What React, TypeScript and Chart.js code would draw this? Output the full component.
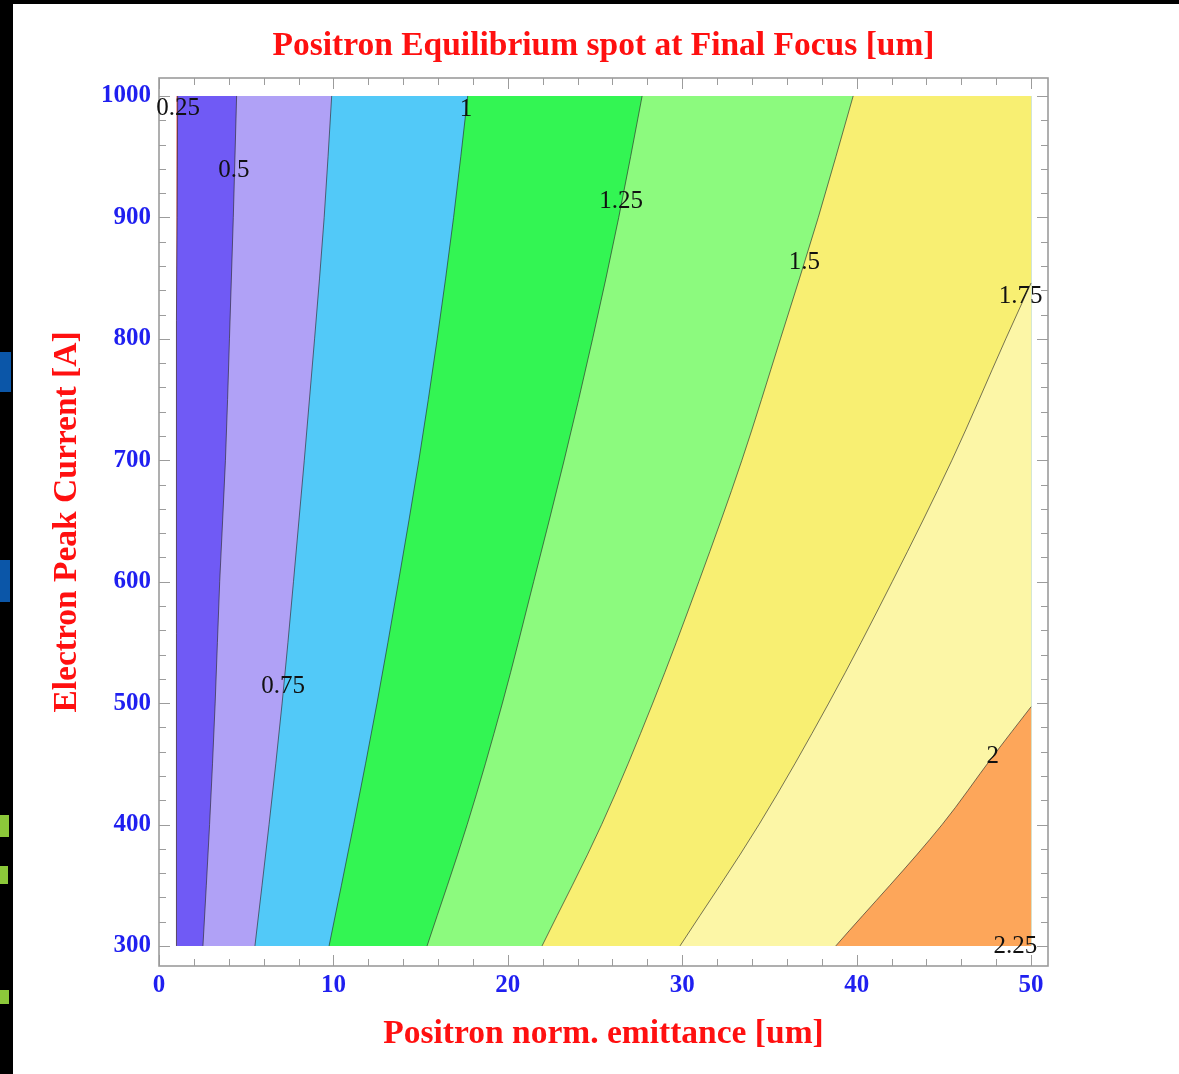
import React, { useEffect, useRef } from 'react';
import { Chart, registerables } from 'chart.js';

Chart.register(...registerables);

// ---- Data ----
// Electron peak current levels [A] at which contour positions were read
const CURRENT = [300, 400, 500, 600, 700, 800, 900, 1000];
// Positron norm. emittance [um] where each contour crosses the current levels
const EDGE_LEFT_X = [1, 1];
const EDGE_Y = [300, 1000];
const C025_Y = [300, 815, 900, 1000];
const C025_X = [1, 1, 1.04, 1.07];
const C050_X = [2.52, 2.9, 3.22, 3.48, 3.81, 4.04, 4.26, 4.45];
const C075_X = [5.5, 6.31, 7.06, 7.71, 8.33, 8.92, 9.47, 9.9];
const C100_X = [9.75, 11.16, 12.5, 13.73, 14.9, 15.95, 16.89, 17.7];
const C125_X = [15.37, 17.67, 19.69, 21.48, 23.23, 24.86, 26.36, 27.7];
const C150_X = [21.96, 25.38, 28.31, 30.95, 33.42, 35.63, 37.8, 39.8];
const C175_Y = [300, 400, 500, 600, 700, 800, 846];
const C175_X = [29.87, 34.4, 38.4, 42.04, 45.46, 48.55, 50];
const C200_Y = [300, 400, 456, 497];
const C200_X = [38.8, 44.9, 47.8, 50];
const DATA_X_MAX = 50;

// colour of the band lying to the right of each contour
const BAND_COLORS = [
  '#e8605c', // < 0.25
  '#705af5', // 0.25 - 0.5
  '#b0a1f6', // 0.5 - 0.75
  '#52c9f8', // 0.75 - 1
  '#33f553', // 1 - 1.25
  '#8cfa7e', // 1.25 - 1.5
  '#f8ef72', // 1.5 - 1.75
  '#fcf6a6', // 1.75 - 2
  '#fda65a', // 2 - 2.25
];

const LABEL_TEXT = ['0.25', '0.5', '0.75', '1', '1.25', '1.5', '1.75', '2', '2.25'];
const LABEL_X = [1.09, 4.3, 7.11, 17.6, 26.5, 37.0, 49.4, 47.8, 49.1];
const LABEL_Y = [990, 939, 514, 988.5, 913.5, 862.5, 834.5, 455.7, 300];

const X_TICKS = [0, 10, 20, 30, 40, 50];
const Y_TICKS = [300, 400, 500, 600, 700, 800, 900, 1000];

const TITLE = 'Positron Equilibrium spot at Final Focus [um]';
const X_TITLE = 'Positron norm. emittance [um]';
const Y_TITLE = 'Electron Peak Current [A]';

const SERIF = "'Liberation Serif', 'Times New Roman', serif";
const RED = '#ff1010';
const BLUE = '#1f1ff0';

const pts = (xs: number[], ys: number[]) => xs.map((x, i) => ({ x, y: ys[i] }));

// ordered from left (lowest value) to right
const contourSets = [
  pts(EDGE_LEFT_X, EDGE_Y),
  pts(C025_X, C025_Y),
  pts(C050_X, CURRENT),
  pts(C075_X, CURRENT),
  pts(C100_X, CURRENT),
  pts(C125_X, CURRENT),
  pts(C150_X, CURRENT),
  pts(C175_X, C175_Y),
  pts(C200_X, C200_Y),
];

const frameTicksPlugin = {
  id: 'frameTicks',
  afterDatasetsDraw(chart: any) {
    const { ctx, chartArea: a, scales } = chart;
    const x = scales.x;
    const y = scales.y;
    ctx.save();
    ctx.strokeStyle = '#9c9c9c';
    ctx.lineWidth = 1;
    ctx.beginPath();
    for (let v = 0; v <= 50; v += 2) {
      const px = Math.round(x.getPixelForValue(v)) + 0.5;
      const len = v % 10 === 0 ? 11 : 7;
      ctx.moveTo(px, a.bottom);
      ctx.lineTo(px, a.bottom - len);
      ctx.moveTo(px, a.top);
      ctx.lineTo(px, a.top + len);
    }
    for (let v = 300; v <= 1000; v += 20) {
      const py = Math.round(y.getPixelForValue(v)) + 0.5;
      const len = v % 100 === 0 ? 11 : 7;
      ctx.moveTo(a.left, py);
      ctx.lineTo(a.left + len, py);
      ctx.moveTo(a.right, py);
      ctx.lineTo(a.right - len, py);
    }
    ctx.stroke();
    ctx.lineWidth = 1.6;
    ctx.strokeRect(a.left, a.top, a.right - a.left, a.bottom - a.top);
    // contour labels
    ctx.fillStyle = '#111';
    ctx.font = `25px ${SERIF}`;
    ctx.textAlign = 'center';
    ctx.textBaseline = 'middle';
    LABEL_TEXT.forEach((t, i) => {
      ctx.fillText(t, x.getPixelForValue(LABEL_X[i]), y.getPixelForValue(LABEL_Y[i]));
    });
    ctx.restore();
  },
};

export default function App() {
  const ref = useRef<HTMLCanvasElement>(null);
  useEffect(() => {
    if (!ref.current) return;
    const datasets = contourSets
      .map((data, i) => ({
        data,
        fill: { target: { value: DATA_X_MAX } },
        backgroundColor: BAND_COLORS[i],
        borderColor: i === 0 ? 'transparent' : 'rgba(40,40,40,0.7)',
        borderWidth: i === 0 ? 0 : 0.9,
        pointRadius: 0,
        cubicInterpolationMode: 'monotone' as const,
      }))
      .reverse(); // so that the leftmost band is painted first
    const chart = new Chart(ref.current, {
      type: 'line',
      data: { datasets: datasets as any },
      plugins: [frameTicksPlugin],
      options: {
        responsive: false,
        animation: false,
        indexAxis: 'y',
        layout: { padding: { top: 10, left: 40, right: 131, bottom: 10 } },
        plugins: {
          legend: { display: false },
          tooltip: { enabled: false },
          title: {
            display: true,
            text: TITLE,
            fullSize: false,
            color: RED,
            font: { family: SERIF, size: 33.5, weight: 'bold' },
            padding: { top: 16, bottom: 11.8 },
          },
        },
        scales: {
          x: {
            type: 'linear',
            position: 'bottom',
            min: 0,
            max: 50.97,
            grid: { display: false, drawTicks: false },
            border: { display: false },
            ticks: {
              color: BLUE,
              font: { family: SERIF, size: 25, weight: 'bold' },
              padding: 5,
              maxRotation: 0,
              callback: (v: any) => String(v),
            },
            afterBuildTicks: (s: any) => {
              s.ticks = X_TICKS.map((v) => ({ value: v }));
            },
            afterFit: (s: any) => {
              s.height = 98;
            },
            title: {
              display: true,
              text: X_TITLE,
              color: RED,
              font: { family: SERIF, size: 33.5, weight: 'bold' },
              padding: { top: 0, bottom: 9.7 },
            },
          },
          y: {
            type: 'linear',
            position: 'left',
            min: 283.5,
            max: 1014.8,
            grid: { display: false, drawTicks: false },
            border: { display: false },
            ticks: {
              color: BLUE,
              font: { family: SERIF, size: 25, weight: 'bold' },
              padding: 8,
              callback: (v: any) => String(v),
            },
            afterBuildTicks: (s: any) => {
              s.ticks = Y_TICKS.map((v) => ({ value: v }));
            },
            afterFit: (s: any) => {
              s.width = 119;
            },
            title: {
              display: true,
              text: Y_TITLE,
              color: RED,
              font: { family: SERIF, size: 33.5, weight: 'bold' },
              padding: { top: 7, bottom: 0 },
            },
          },
        },
      } as any,
    });
    return () => chart.destroy();
  }, []);

  return (
    <div
      style={{
        position: 'fixed',
        left: 0,
        top: 0,
        width: 1179,
        height: 1074,
        background: '#000',
        overflow: 'hidden',
      }}
    >
      <div style={{ position: 'absolute', left: 13, top: 4, width: 1166, height: 1070, background: '#fff' }} />
      <div style={{ position: 'absolute', left: 0, top: 352, width: 11, height: 40, background: '#0b56a8' }} />
      <div style={{ position: 'absolute', left: 0, top: 560, width: 10, height: 42, background: '#0b56a8' }} />
      <div style={{ position: 'absolute', left: 0, top: 815, width: 9, height: 22, background: '#8cc83a' }} />
      <div style={{ position: 'absolute', left: 0, top: 866, width: 8, height: 18, background: '#8cc83a' }} />
      <div style={{ position: 'absolute', left: 0, top: 990, width: 9, height: 14, background: '#8cc83a' }} />
      <canvas
        ref={ref}
        width={1179}
        height={1074}
        style={{ position: 'absolute', left: 0, top: 0, width: 1179, height: 1074 }}
      />
    </div>
  );
}
